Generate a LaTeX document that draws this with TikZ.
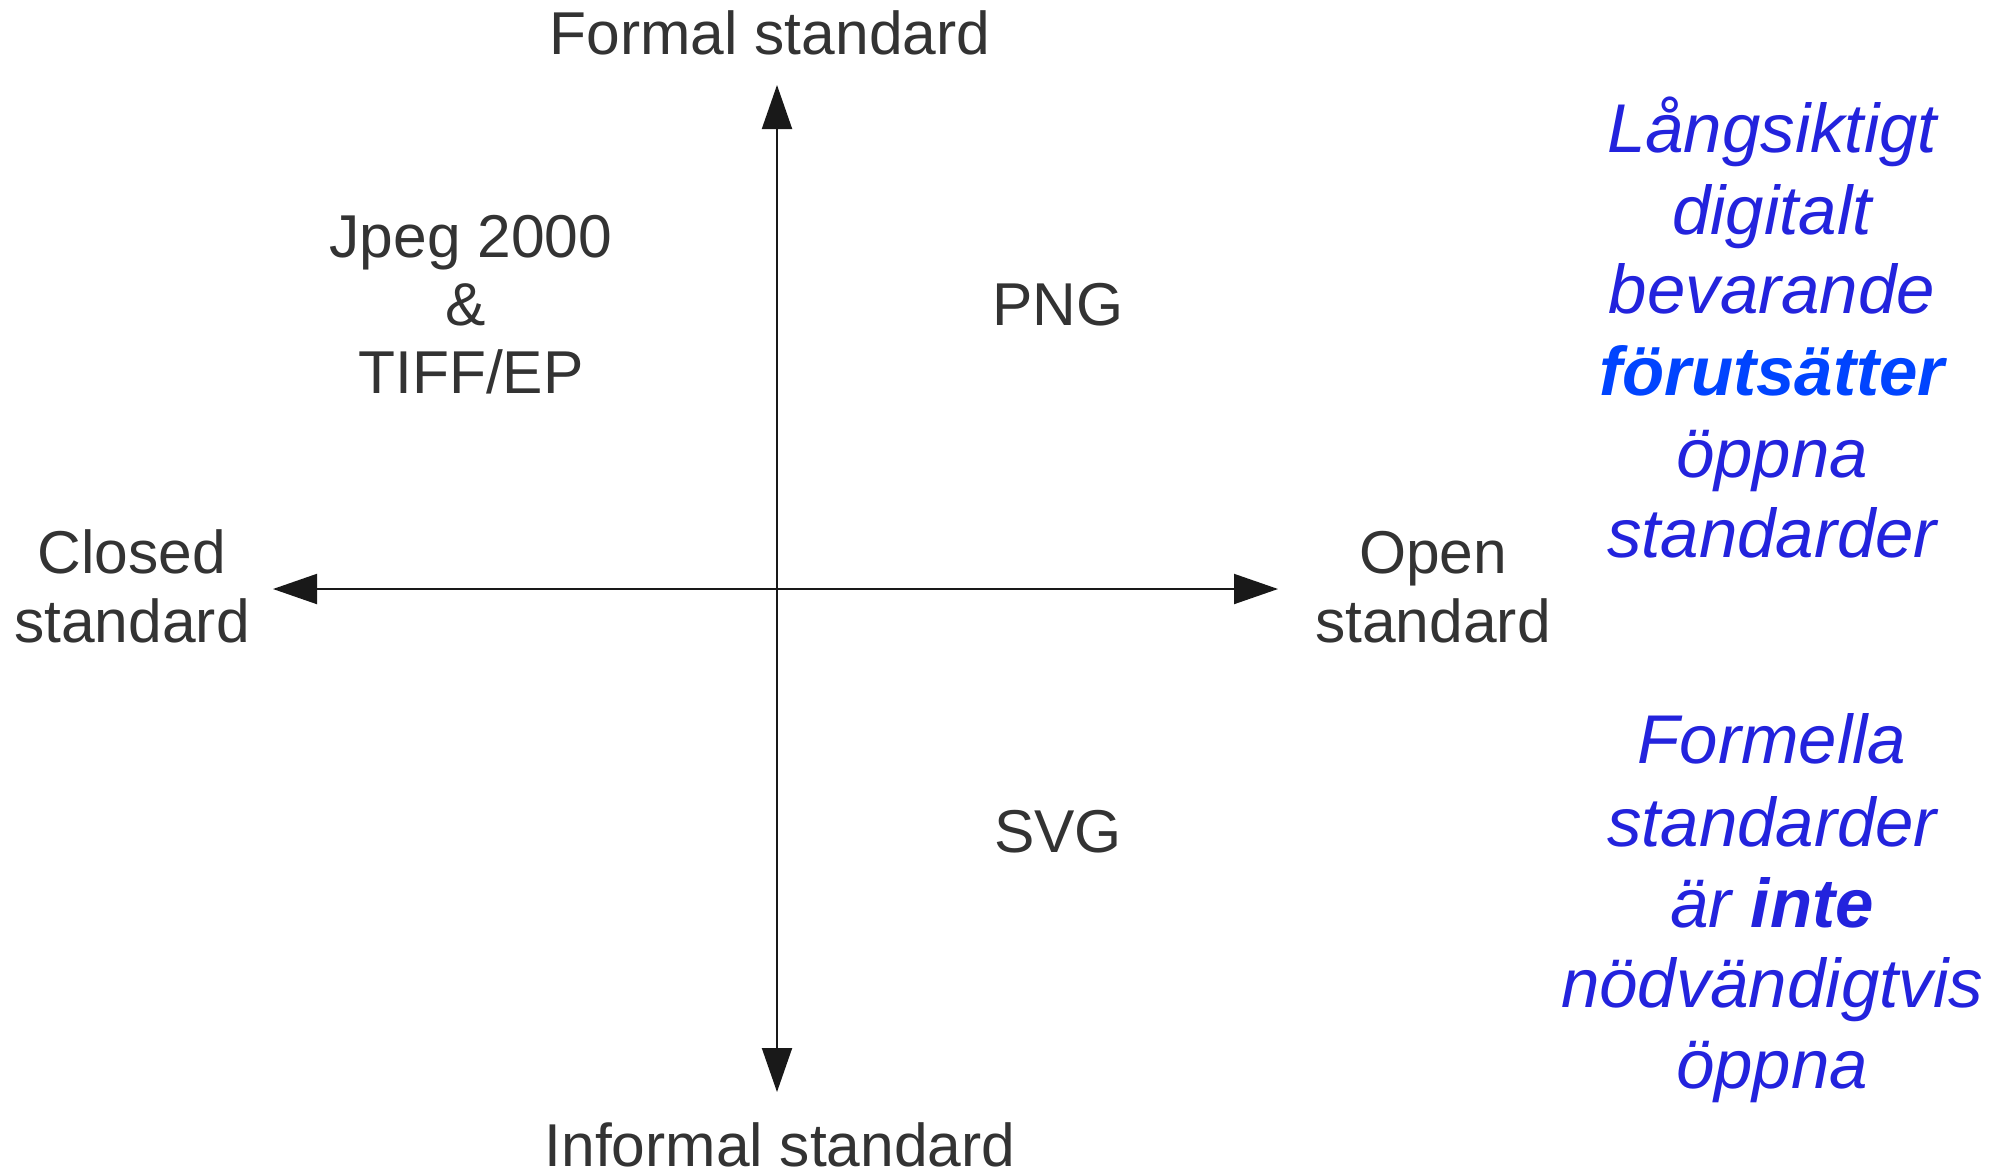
\documentclass[tikz,border=0pt]{standalone}
\usepackage{fontspec}
\setmainfont{Liberation Sans}
\usetikzlibrary{arrows.meta}
\definecolor{txtgray}{HTML}{333333}
\definecolor{noteblue}{HTML}{2323DD}
\definecolor{brightblue}{HTML}{0044FF}
\begin{document}
\begin{tikzpicture}[x=1pt,y=-1pt,
  lbl/.style={anchor=base, inner sep=0pt, text=txtgray, font=\fontsize{60.5}{70}\selectfont},
  note/.style={anchor=base, inner sep=0pt, text=noteblue, font=\fontsize{69}{81}\selectfont\itshape},
  axis/.style={line width=2pt, draw=black!90, -{Triangle[length=44pt,width=30pt]}}]
\useasboundingbox[fill=white] (0,0) rectangle (1998,1171);
% axes
\coordinate (O) at (777,589);
\coordinate (N) at (777,85);
\coordinate (S) at (777,1092);
\coordinate (W) at (273,589);
\coordinate (E) at (1278,589);
\draw[axis] (O) -- (N);
\draw[axis] (O) -- (S);
\draw[axis] (O) -- (W);
\draw[axis] (O) -- (E);
% axis labels
\node[lbl] (formal) at (770,54) {Formal standard};
\node[lbl, text depth=0pt] (informal) at (780,1166) {Informal standard};
\node[lbl] (closed1) at (132,573) {Closed};
\node[lbl] (closed2) at (132,642) {standard};
\node[lbl] (open1) at (1433,573) {Open};
\node[lbl] (open2) at (1433,642) {standard};
% quadrant labels
\node[lbl] (jpeg1) at (471,257) {Jpeg 2000};
\node[lbl] (jpeg2) at (466,325) {\&};
\node[lbl] (jpeg3) at (471,393) {TIFF/EP};
\node[lbl] (png) at (1058,325) {PNG};
\node[lbl] (svg) at (1058,852) {SVG};
% notes
\node[note] (n1) at (1772,152) {Långsiktigt};
\node[note] (n2) at (1772,234) {digitalt};
\node[note] (n3) at (1772,313) {bevarande};
\node[note, text=brightblue] (n4) at (1772,395) {\bfseries förutsätter};
\node[note] (n5) at (1772,477) {öppna};
\node[note] (n6) at (1772,557) {standarder};
\node[note] (m1) at (1772,763) {Formella};
\node[note] (m2) at (1772,846) {standarder};
\node[note] (m3) at (1772,927) {är \textbf{inte}};
\node[note] (m4) at (1772,1007) {nödvändigtvis};
\node[note] (m5) at (1772,1088) {öppna};
\end{tikzpicture}
\end{document}
